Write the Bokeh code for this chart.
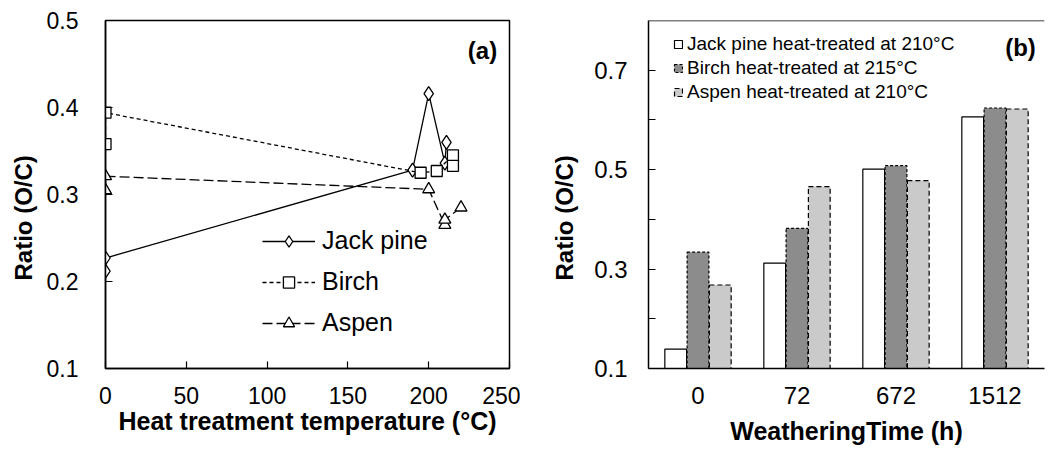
import math
from bokeh.plotting import figure
from bokeh.models import (Range1d, FixedTicker, Legend, LegendItem, Label, Title,
                          FactorRange, ColumnDataSource, Span)
from bokeh.transform import dodge
from bokeh.layouts import row
from bokeh.embed import file_html
from bokeh.resources import INLINE

FONT = "Liberation Sans"

# ---------------- data: panel (a) ----------------
jp_temp = [0, 0, 190, 200, 210, 211]
jp_ratio = [0.212, 0.227, 0.328, 0.416, 0.336, 0.360]
birch_temp = [0, 0, 195, 205, 215, 215]
birch_ratio = [0.358, 0.394, 0.325, 0.327, 0.345, 0.333]
aspen_temp = [0, 0, 200, 210, 210, 220]
aspen_ratio = [0.305, 0.321, 0.306, 0.265, 0.271, 0.285]
a_xticks = [0, 50, 100, 150, 200, 250]
a_yticks = [0.1, 0.2, 0.3, 0.4, 0.5]

# ---------------- data: panel (b) ----------------
times = ["0", "72", "672", "1512"]
jp_b = [0.139, 0.312, 0.501, 0.606]
birch_b = [0.334, 0.382, 0.508, 0.624]
aspen_b = [0.268, 0.466, 0.478, 0.622]
b_yticks = [0.1, 0.3, 0.5, 0.7]
b_yminor = [0.2, 0.4, 0.6]


def style_axes(p, tick_size):
    p.xgrid.visible = False
    p.ygrid.visible = False
    for ax in (p.xaxis[0], p.yaxis[0]):
        ax.major_label_text_font = FONT
        ax.major_label_text_font_size = tick_size
        ax.major_label_text_color = "black"
        ax.axis_label_text_font = FONT
        ax.axis_label_text_font_size = "25px"
        ax.axis_label_text_font_style = "bold"
        ax.axis_label_text_color = "black"
        ax.axis_line_color = "black"
        ax.axis_line_width = 1.5
        ax.major_tick_line_color = "black"
        ax.major_tick_line_width = 1.2
        ax.major_tick_in = 7
        ax.major_tick_out = 0
        ax.minor_tick_line_color = None


def ylabel_title(standoff):
    return Title(text="Ratio (O/C)", align="left", offset=88, standoff=standoff,
                 text_font=FONT, text_font_size="24px", text_font_style="bold",
                 text_color="black")


# ================= panel (a) =================
p1 = figure(width=520, height=448, x_range=Range1d(0, 250), y_range=Range1d(0.1, 0.5),
            output_backend="svg", toolbar_location=None,
            min_border_left=105, min_border_right=11, min_border_top=20, min_border_bottom=80)
style_axes(p1, "23px")
p1.outline_line_color = "black"
p1.outline_line_width = 1.5
p1.outline_line_alpha = 1.0
p1.xaxis.ticker = FixedTicker(ticks=a_xticks)
p1.yaxis.ticker = FixedTicker(ticks=a_yticks)
p1.xaxis.major_label_standoff = 18
p1.yaxis.major_label_standoff = 27
p1.xaxis.axis_label = "Heat treatment temperature (°C)"
p1.xaxis.axis_label_standoff = 0
p1.yaxis.axis_label = None
p1.add_layout(ylabel_title(14), "left")

lw = 1.3
l_jp = p1.line(jp_temp, jp_ratio, line_color="black", line_width=lw)
s_jp = p1.scatter(jp_temp, jp_ratio, marker="diamond", size=14,
                  fill_color="white", line_color="black", line_width=lw)
l_bi = p1.line(birch_temp, birch_ratio, line_color="black", line_width=lw, line_dash="4 3")
s_bi = p1.scatter(birch_temp, birch_ratio, marker="square", size=11,
                  fill_color="white", line_color="black", line_width=lw)
l_as = p1.line(aspen_temp, aspen_ratio, line_color="black", line_width=lw, line_dash="10 4")
s_as = p1.scatter(aspen_temp, aspen_ratio, marker="triangle", size=12,
                  fill_color="white", line_color="black", line_width=lw)

leg1 = Legend(items=[LegendItem(label="Jack pine", renderers=[l_jp, s_jp]),
                     LegendItem(label="Birch", renderers=[l_bi, s_bi]),
                     LegendItem(label="Aspen", renderers=[l_as, s_as])],
              location=(157, 31), padding=0, margin=0, spacing=12,
              glyph_width=53, glyph_height=28, label_height=28, label_standoff=7,
              label_text_font=FONT, label_text_font_size="25px", label_text_color="black",
              border_line_color=None, background_fill_alpha=0)
p1.add_layout(leg1, "center")

p1.add_layout(Label(x=377, y=318, x_units="screen", y_units="screen", text="(a)",
                    text_align="center", text_baseline="middle",
                    text_font=FONT, text_font_size="24px", text_font_style="bold",
                    text_color="black"))

# ================= panel (b) =================
src = ColumnDataSource(dict(t=times, jp=jp_b, bi=birch_b, asp=aspen_b))
p2 = figure(width=533, height=448, x_range=FactorRange(factors=times), y_range=Range1d(0.1, 0.8),
            output_backend="svg", toolbar_location=None,
            min_border_left=128, min_border_right=9, min_border_top=20, min_border_bottom=80)
style_axes(p2, "24px")
p2.outline_line_color = None
p2.yaxis.ticker = FixedTicker(ticks=b_yticks, minor_ticks=b_yminor)
p2.yaxis.minor_tick_line_color = "black"
p2.yaxis.minor_tick_line_width = 1.2
p2.yaxis.minor_tick_in = 7
p2.yaxis.minor_tick_out = 0
p2.xaxis.major_tick_line_color = None
p2.xaxis.major_label_standoff = 18
p2.yaxis.major_label_standoff = 21
p2.xaxis.axis_label = "WeatheringTime (h)"
p2.xaxis.axis_label_standoff = 10
p2.yaxis.axis_label = None
p2.add_layout(ylabel_title(28), "left")
p2.add_layout(Span(location=p2.y_range.end, dimension="width", line_color="black", line_width=1.5))

bw = 0.22
base = p2.y_range.start
r1 = p2.vbar(x=dodge("t", -0.225, range=p2.x_range), top="jp", bottom=base, width=bw, source=src,
             fill_color="white", line_color="black", line_width=1.2)
r2 = p2.vbar(x=dodge("t", 0.0, range=p2.x_range), top="bi", bottom=base, width=bw, source=src,
             fill_color="#8c8c8c", line_color="black", line_width=1.2, line_dash="3 2")
r3 = p2.vbar(x=dodge("t", 0.225, range=p2.x_range), top="asp", bottom=base, width=bw, source=src,
             fill_color="#cacaca", line_color="black", line_width=1.2, line_dash="5 3")

leg2 = Legend(items=[LegendItem(label="Jack pine heat-treated at 210°C", renderers=[r1]),
                     LegendItem(label="Birch heat-treated at 215°C", renderers=[r2]),
                     LegendItem(label="Aspen heat-treated at 210°C", renderers=[r3])],
              location=(25, 265), padding=0, margin=0, spacing=2,
              glyph_width=10, glyph_height=10, label_height=22, label_standoff=4,
              label_text_font=FONT, label_text_font_size="19px", label_text_color="black",
              border_line_color=None, background_fill_alpha=0)
p2.add_layout(leg2, "center")

p2.add_layout(Label(x=372, y=321, x_units="screen", y_units="screen", text="(b)",
                    text_align="center", text_baseline="middle",
                    text_font=FONT, text_font_size="24px", text_font_style="bold",
                    text_color="black"))

layout = row(p1, p2)
open("out.html", "w").write(file_html(layout, INLINE))
